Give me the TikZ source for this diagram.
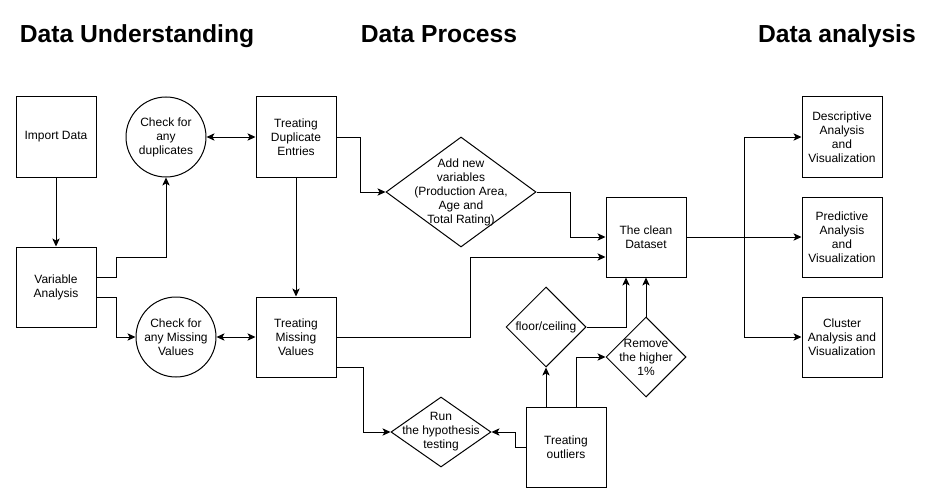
\documentclass[tikz,border=0pt]{standalone}
\usepackage{fontspec}
\setmainfont{Liberation Sans}
\usepackage{tikz}
\usetikzlibrary{arrows.meta,positioning,shapes.geometric}

\begin{document}
\begin{tikzpicture}[x=0.75pt, y=-0.75pt, line width=0.75pt,
	>={Stealth[length=6pt, width=5.5pt, inset=1.5pt]},
	every node/.style={font=\fontsize{9}{10.5}\selectfont, align=center},
	box/.style={draw, rectangle, minimum width=60pt, minimum height=60pt, inner sep=0pt},
	chk/.style={draw, circle, minimum size=60pt, inner sep=0pt},
	decision/.style={draw, diamond, inner sep=-30pt},
	title/.style={font=\fontsize{18.5}{22}\selectfont\bfseries, anchor=base}]
	\useasboundingbox (0,0) rectangle (946,503);
	
	\node[title](T1) at (137,43){Data Understanding};
	\node[title](T2) at (439,43){Data Process};
	\node[title](T3) at (837,43){Data analysis};
	
	\node[box](IMP) at (56,137){Import Data};
	\node[box, below of=IMP, node distance=112.5pt](VAR){Variable\\Analysis};
	
	\node[chk, right of=IMP, node distance=82.5pt](CHK1){Check for\\any\\duplicates};
	\node[box, right of=CHK1, node distance=97.5pt](TRT1){Treating\\Duplicate\\Entries};
	\node[box, below of=TRT1, node distance=150pt](TRT2){Treating\\Missing\\Values};
	\node[chk, left of=TRT2, node distance=90pt](CHK2){Check for\\any Missing\\Values};
	
	\path (IMP) edge[->] (VAR);
	\draw[->] ([yshift=7.5pt]VAR.east) -- ++(15pt,0) |- ([yshift=-60pt]CHK1.south) -- (CHK1.south);
	\draw[->] ([yshift=-7.5pt]VAR.east) -- ++(15pt,0) |- (CHK2.west);
	\draw[<->] (CHK1.east) -- (TRT1.west);
	\draw[<->] (CHK2.east) -- (TRT2.west);
	\draw[->] (TRT1.south) -- (TRT2.north);
	
	\node[decision, right of=TRT1, node distance=123.75pt, yshift=-41.25pt, minimum width=112.5pt, minimum height=82.5pt](ADD){Add new\\variables\\(Production Area,\\Age and\\Total Rating)};
	\node[box](CLEAN) at (646,237){The clean\\Dataset};
	
	\draw[->] (TRT1.east) -- ++(18pt,0) |- (ADD.west);
	\draw[->] (ADD.east) -- ++(25.5pt,0) |- (CLEAN.west);
	\draw[->] (TRT2.east) -- ++(100.5pt,0) |- ([yshift=-15pt]CLEAN.west);
	
	\node[decision, below of=CLEAN, node distance=90pt, minimum width=60pt, minimum height=60pt](REM){Remove\\the higher\\1\%};
	\node[decision, left of=REM, node distance=75pt, yshift=22.5pt, minimum width=60pt, minimum height=60pt](FLOOR){floor/ceiling};
	\node[box, below of=REM, node distance=67.5pt, xshift=-60pt](OUT){Treating\\outliers};
	\node[decision, left of=OUT, node distance=93.75pt, yshift=11.25pt, minimum width=75pt, minimum height=52.5pt](HYP){Run\\the hypothesis\\testing};
	
	\draw[->] ([yshift=-22.5pt]TRT2.east) -- ++(20.25pt,0) |- (HYP.west);
	\draw[->] (OUT.west) -- ++(-7.5pt,0) |- (HYP.east);
	\draw[->] ([xshift=-15pt]OUT.north) -- (FLOOR.south);
	\draw[->] ([xshift=7.5pt]OUT.north) |- (REM.west);
	\draw[->] (FLOOR.east) -| ([xshift=-15pt]CLEAN.south);
	\draw[->] (REM.north) -- (CLEAN.south);
	
	\node[box, right of=CLEAN, node distance=147pt](ANA2){Predictive\\Analysis\\and\\Visualization};
	\node[box, above of=ANA2, node distance=75pt](ANA1){Descriptive\\Analysis\\and\\Visualization};
	\node[box, below of=ANA2, node distance=75pt](ANA3){Cluster\\Analysis and\\Visualization};
	
	\draw (CLEAN.east) -- ++(43.5pt,0) coordinate(SPLIT);
	\draw[->] (SPLIT) |- (ANA1.west);
	\draw[->] (SPLIT) -- (ANA2.west);
	\draw[->] (SPLIT) |- (ANA3.west);
\end{tikzpicture}
\end{document}
